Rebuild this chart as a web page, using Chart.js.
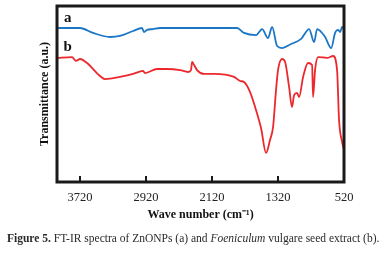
<!DOCTYPE html>
<html>
<head>
<meta charset="utf-8">
<script src="https://cdn.jsdelivr.net/npm/chart.js@4/dist/chart.umd.min.js"></script>
<style>
  html, body { margin: 0; padding: 0; background: #fff; }
  #wrap { position: relative; width: 388px; height: 256px; }
  #caption {
    position: absolute; left: 7px; top: 232px; white-space: nowrap;
    font-family: "Liberation Serif", serif; font-size: 11.5px; color: #2a2a2a;
  }
</style>
</head>
<body>
<div id="wrap">
  <canvas id="ftirChart" width="388" height="256"></canvas>
  <div id="caption"><b>Figure 5.</b> FT-IR spectra of ZnONPs (a) and <i>Foeniculum</i> vulgare seed extract (b).</div>
</div>
<script>
// Wave number ticks (cm-1)
const tickLabels = [3720, 2920, 2120, 1320, 520];

// Spectrum (a) ZnONPs
const waveA = [4000, 3721, 3563, 3357, 3236, 3078, 2969, 2945, 2908, 2836, 2751, 2338, 1817, 1732, 1586, 1513, 1441, 1392, 1331, 1271, 1162, 1040, 943, 883, 846, 749, 676, 628, 592, 567, 543, 520];
const transA = [87.5, 87.5, 84.7, 82.4, 83.0, 85.8, 87.5, 85.2, 86.4, 86.9, 87.5, 87.5, 87.5, 84.7, 83.5, 86.9, 81.8, 88.1, 77.3, 76.1, 78.4, 81.3, 86.9, 79.5, 86.9, 82.4, 76.1, 84.7, 86.4, 85.2, 88.1, 86.9];

// Spectrum (b) Foeniculum vulgare seed extract
const waveB = [4000, 3818, 3770, 3721, 3636, 3478, 3418, 3236, 3078, 2957, 2933, 2787, 2666, 2508, 2411, 2375, 2362, 2338, 2302, 2217, 2096, 1853, 1780, 1732, 1659, 1598, 1526, 1465, 1417, 1380, 1344, 1320, 1271, 1234, 1186, 1150, 1125, 1089, 1065, 1016, 956, 907, 895, 871, 834, 725, 652, 604, 580, 543, 520];
const transB = [70.5, 71.0, 68.8, 69.9, 67.6, 60.2, 58.5, 59.7, 61.4, 63.1, 61.9, 64.2, 64.2, 63.6, 62.5, 63.6, 68.2, 66.5, 63.6, 61.4, 61.4, 59.7, 57.4, 56.8, 51.1, 42.6, 30.7, 16.5, 23.9, 31.3, 52.3, 63.6, 69.9, 68.2, 54.0, 42.6, 49.4, 50.6, 48.3, 59.7, 67.6, 66.5, 48.3, 63.6, 71.0, 70.5, 71.6, 63.6, 35.2, 22.7, 18.2];

// Curve labels
const curveNames = ["a", "b"];
const curveLabelPos = [[3870, 93.2], [3870, 76.7]];

const serif = "'Liberation Serif', 'Times New Roman', serif";

function toPoints(xs, ys) {
  return xs.map((x, i) => ({ x: x, y: ys[i] }));
}

// Frame, inward ticks and curve letters
const framePlugin = {
  id: "frame",
  afterDraw(chart) {
    const { ctx, chartArea, scales } = chart;
    ctx.save();
    ctx.strokeStyle = "#1a1a1a";
    ctx.lineWidth = 3;
    ctx.strokeRect(chartArea.left, chartArea.top, chartArea.right - chartArea.left, chartArea.bottom - chartArea.top);

    ctx.lineWidth = 2;
    tickLabels.forEach((t) => {
      const px = Math.round(scales.x.getPixelForValue(t));
      ctx.beginPath();
      ctx.moveTo(px, chartArea.bottom);
      ctx.lineTo(px, chartArea.bottom - 6);
      ctx.stroke();
    });

    ctx.fillStyle = "#111";
    ctx.font = "bold 15px " + serif;
    ctx.textAlign = "center";
    ctx.textBaseline = "middle";
    curveNames.forEach((n, i) => {
      const p = curveLabelPos[i];
      ctx.fillText(n, scales.x.getPixelForValue(p[0]), scales.y.getPixelForValue(p[1]));
    });
    ctx.restore();
  },
};

new Chart(document.getElementById("ftirChart"), {
  type: "line",
  data: {
    datasets: [
      {
        label: "ZnONPs",
        data: toPoints(waveA, transA),
        borderColor: "rgb(28, 118, 198)",
        borderWidth: 1.8,
        pointRadius: 0,
        cubicInterpolationMode: "monotone",
      },
      {
        label: "Foeniculum vulgare seed extract",
        data: toPoints(waveB, transB),
        borderColor: "rgb(236, 40, 45)",
        borderWidth: 1.8,
        pointRadius: 0,
        cubicInterpolationMode: "monotone",
      },
    ],
  },
  options: {
    responsive: false,
    animation: false,
    layout: { padding: { left: 0, top: 6, right: 44, bottom: 0 } },
    plugins: { legend: { display: false }, tooltip: { enabled: false } },
    scales: {
      x: {
        type: "linear",
        reverse: true,
        min: 520,
        max: 4000,
        afterBuildTicks: (scale) => {
          scale.ticks = tickLabels.map((v) => ({ value: v }));
        },
        afterFit: (scale) => { scale.height = 74; },
        grid: { display: false, drawTicks: false },
        border: { display: false },
        ticks: {
          padding: 8,
          maxRotation: 0,
          color: "#222",
          font: { family: serif, size: 12.5 },
          callback: (value) => String(value),
        },
        title: {
          display: true,
          text: "Wave number (cm⁻¹)",
          color: "#111",
          font: { family: serif, size: 12, weight: "bold" },
          padding: { top: 0, bottom: 34 },
        },
      },
      y: {
        min: 0,
        max: 100,
        afterFit: (scale) => { scale.width = 57; },
        grid: { display: false, drawTicks: false },
        border: { display: false },
        ticks: { display: false },
        title: {
          display: true,
          text: "Transmittance (a.u.)",
          color: "#111",
          font: { family: serif, size: 12, weight: "bold" },
          padding: { top: 38, bottom: 0 },
        },
      },
    },
  },
  plugins: [framePlugin],
});
</script>
</body>
</html>
